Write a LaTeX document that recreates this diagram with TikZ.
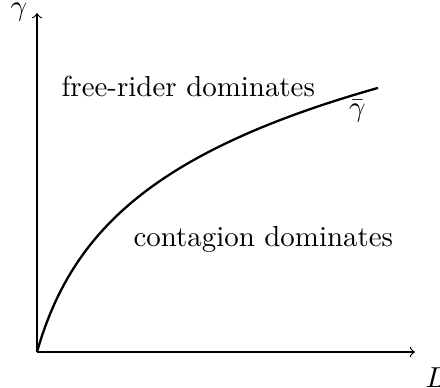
\documentclass[tikz,border=0pt]{standalone}
\begin{document}
\begin{tikzpicture}[x=0.346pt,y=-0.346pt,
  axis/.style={->,line width=0.4pt},
  curvestyle/.style={line width=0.8pt},
  lbl/.style={inner sep=0pt}]
\useasboundingbox (0,0) rectangle (440,388);
\coordinate (O) at (37,352);
\coordinate (ytop) at (37,13);
\coordinate (xend) at (415,352);
\draw[axis] (O) -- (ytop);
\draw[axis] (O) -- (xend);
\draw[curvestyle] plot[domain=0:341,samples=150,smooth] ({37+\x},{352-105*ln(1+\x/30)});
\node[lbl] (gy) at (19,12.5) {$\gamma$};
\node[lbl,anchor=base west] (lx) at (425,388) {$L$};
\node[lbl,anchor=base] (fr) at (188.3,97) {free-rider dominates};
\node[lbl,anchor=base] (cd) at (263.3,247) {contagion dominates};
\node[lbl] (gb) at (357.5,111) {$\bar\gamma$};
\end{tikzpicture}
\end{document}
